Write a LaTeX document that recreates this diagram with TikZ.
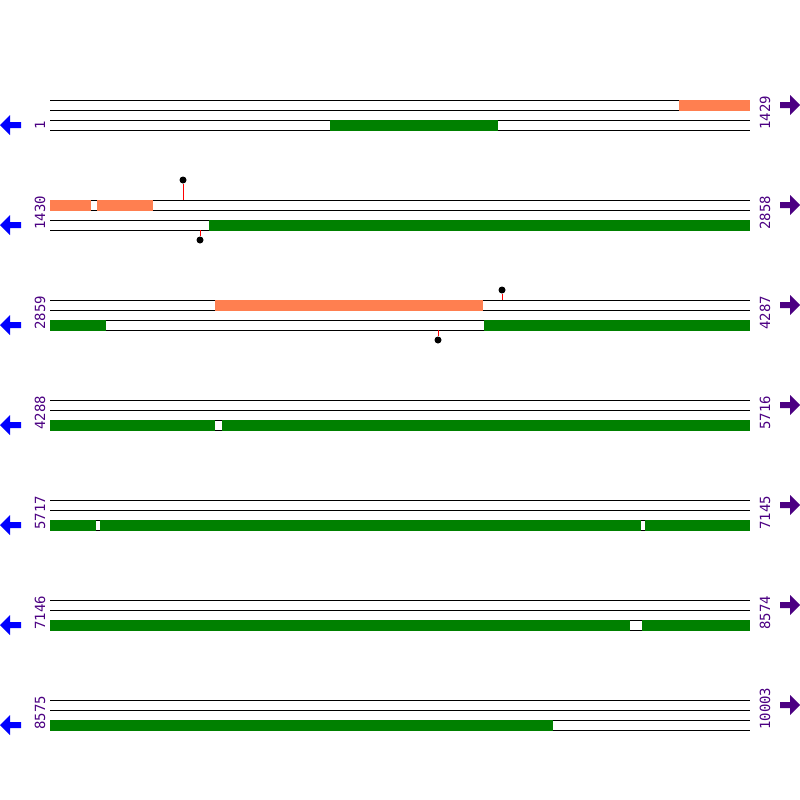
\documentclass[tikz,border=0pt]{standalone}
\usepackage{fontspec}
\setmonofont{DejaVu Sans Mono}
\usetikzlibrary{positioning}

\definecolor{fwdfill}{HTML}{FF7F50}
\definecolor{revfill}{HTML}{008000}
\definecolor{posnum}{HTML}{4B0082}
\definecolor{leftarr}{HTML}{0000FF}

\begin{document}
\begin{tikzpicture}
	[
	 x = 1pt,
	 y = -1pt,
	 every node/.style = {inner sep = 0pt,
	                      font = \ttfamily\fontsize{14}{14}\selectfont,
	                      text = posnum
	                     },
	 track/.style   = {line width = 1pt, black},
	 fwdseg/.style  = {fill = fwdfill},
	 revseg/.style  = {fill = revfill},
	 stem/.style    = {red, line width = 1pt},
	 pinhead/.style = {circle, fill = black, minimum size = 7pt},
	 numlabel/.style = {rotate = 90, anchor = base west}
	]
	
	\useasboundingbox (0,0) rectangle (800,800);
	
	\newcommand{\fwdbar}[3]{\fill[fwdseg] (#1,#3-0.5) rectangle (#2,#3+10.5);}
	\newcommand{\revbar}[3]{\fill[revseg] (#1,#3+19.5) rectangle (#2,#3+30.5);}
	
	% rows: lines, numbers, strand arrows
	\foreach \y/\s/\e [count=\i] in {100/1/1429, 200/1430/2858, 300/2859/4287,
	                                 400/4288/5716, 500/5717/7145, 600/7146/8574,
	                                 700/8575/10003}
	{
	  \foreach \d in {0,10,20,30}
	    \draw[track] (50,\y+\d) -- (750,\y+\d);
	  \node[numlabel] (s\i) at (45,\y+30)  {\s};
	  \node[numlabel] (e\i) at (770,\y+30) {\e};
	  \fill[leftarr] (0,\y+25) -- (10,\y+15) -- (10,\y+22) -- (21,\y+22)
	                 -- (21,\y+28) -- (10,\y+28) -- (10,\y+35) -- cycle;
	  \fill[posnum] (800,\y+5) -- (790,\y-5) -- (790,\y+2) -- (780,\y+2)
	                -- (780,\y+8) -- (790,\y+8) -- (790,\y+15) -- cycle;
	}
	
	\fwdbar{679}{750}{100}
	\revbar{330}{498}{100}
	
	\fwdbar{50}{91}{200}
	\fwdbar{97}{153}{200}
	\revbar{209}{750}{200}
	
	\fwdbar{215}{483}{300}
	\revbar{50}{106}{300}
	\revbar{484}{750}{300}
	
	\revbar{50}{215}{400}
	\revbar{222}{750}{400}
	
	\revbar{50}{96}{500}
	\revbar{100}{641}{500}
	\revbar{645}{750}{500}
	
	\revbar{50}{630}{600}
	\revbar{642}{750}{600}
	
	\revbar{50}{553}{700}
	
	% lollipops
	\coordinate (a1) at (183,200);
	\node[pinhead] (b1) at (183,180) {};
	\coordinate (a2) at (200,230);
	\node[pinhead] (b2) at (200,240) {};
	\coordinate (a3) at (502,300);
	\node[pinhead] (b3) at (502,290) {};
	\coordinate (a4) at (438,330);
	\node[pinhead] (b4) at (438,340) {};
	\draw[stem] (a1) -- (b1);
	\draw[stem] (a2) -- (b2);
	\draw[stem] (a3) -- (b3);
	\draw[stem] (a4) -- (b4);
\end{tikzpicture}
\end{document}
